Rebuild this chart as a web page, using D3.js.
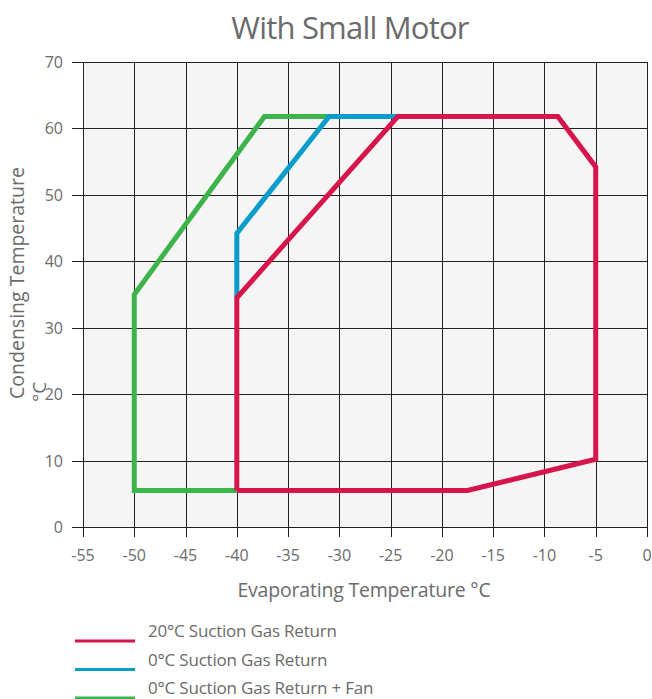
<!DOCTYPE html>
<html>
<head>
<meta charset="utf-8">
<script src="https://cdnjs.cloudflare.com/ajax/libs/d3/7.8.5/d3.min.js"></script>
<style>
  html, body { margin: 0; padding: 0; background: #fff; }
  svg text { font-family: "Open Sans", "DejaVu Sans", sans-serif; fill: #6b6b6b; }
</style>
</head>
<body>
<svg id="chart" width="652" height="699"></svg>
<script>
// Operating envelopes: [evaporating °C, condensing °C]
const envelopeRed = [[-40, 5.5], [-17.5, 5.5], [-5, 10.2], [-5, 54.2], [-8.7, 61.8], [-24.3, 61.8], [-40, 34.5], [-40, 5.5]];
const envelopeBlue = [[-40, 34.5], [-40, 44.2], [-31, 61.8], [-24.3, 61.8]];
const envelopeGreen = [[-40, 5.5], [-50, 5.5], [-50, 35], [-37.3, 61.8], [-31, 61.8]];

const seriesNames = ["20°C Suction Gas Return", "0°C Suction Gas Return", "0°C Suction Gas Return + Fan"];
const seriesColors = ["#d5154b", "#0a9dcb", "#3cb44a"];

const xTicks = [-55, -50, -45, -40, -35, -30, -25, -20, -15, -10, -5, 0];
const yTicks = [0, 10, 20, 30, 40, 50, 60, 70];

const svg = d3.select("#chart");
const plot = { left: 83, right: 647, top: 62, bottom: 527 };

const x = d3.scaleLinear().domain([-55, 0]).range([plot.left, plot.right]);
const y = d3.scaleLinear().domain([0, 70]).range([plot.bottom, plot.top]);

// plot background
svg.append("rect")
  .attr("x", plot.left).attr("y", plot.top)
  .attr("width", plot.right - plot.left).attr("height", plot.bottom - plot.top)
  .attr("fill", "#f5f5f5");

// grid
const grid = svg.append("g");
grid.selectAll("line.v").data(xTicks).join("line")
  .attr("x1", d => Math.round(x(d)) + 0.5).attr("x2", d => Math.round(x(d)) + 0.5)
  .attr("y1", plot.top).attr("y2", plot.bottom + 10)
  .attr("stroke", "#222").attr("stroke-width", 1);
grid.selectAll("line.h").data(yTicks).join("line")
  .attr("y1", d => Math.round(y(d)) + 0.5).attr("y2", d => Math.round(y(d)) + 0.5)
  .attr("x1", plot.left - 11).attr("x2", plot.right)
  .attr("stroke", "#222").attr("stroke-width", 1);

// tick labels
svg.append("g").selectAll("text").data(xTicks).join("text")
  .attr("x", d => x(d)).attr("y", 561)
  .attr("text-anchor", "middle").attr("font-size", 16)
  .text(d => d);
svg.append("g").selectAll("text").data(yTicks).join("text")
  .attr("x", 63).attr("y", d => y(d) + 6)
  .attr("text-anchor", "end").attr("font-size", 16)
  .text(d => d);

// title and axis titles
svg.append("text").attr("x", 350).attr("y", 39)
  .attr("text-anchor", "middle").attr("font-size", 31).attr("letter-spacing", -0.8)
  .text("With Small Motor");
svg.append("text").attr("x", 364).attr("y", 597)
  .attr("text-anchor", "middle").attr("font-size", 19.5).attr("letter-spacing", -0.2)
  .text("Evaporating Temperature °C");
svg.append("text")
  .attr("transform", "translate(24,283) rotate(-90)")
  .attr("text-anchor", "middle").attr("font-size", 19.5).attr("letter-spacing", 0)
  .text("Condensing Temperature");
svg.append("text")
  .attr("transform", "translate(46,402) rotate(-90)")
  .attr("text-anchor", "start").attr("font-size", 19)
  .text("°C");

// envelopes
const line = d3.line().x(d => x(d[0])).y(d => y(d[1]));
const paths = [envelopeGreen, envelopeBlue, envelopeRed];
const pathColors = [seriesColors[2], seriesColors[1], seriesColors[0]];
svg.append("g").selectAll("path").data(paths).join("path")
  .attr("d", line)
  .attr("fill", "none")
  .attr("stroke", (d, i) => pathColors[i])
  .attr("stroke-width", 5)
  .attr("stroke-linejoin", "miter");

// legend
const legend = svg.append("g").selectAll("g").data(seriesNames).join("g")
  .attr("transform", (d, i) => `translate(0,${i * 28.5})`);
legend.append("line")
  .attr("x1", 75).attr("x2", 135).attr("y1", 641).attr("y2", 641)
  .attr("stroke", (d, i) => seriesColors[i]).attr("stroke-width", 3);
legend.append("text")
  .attr("x", 148).attr("y", 637).attr("font-size", 17).attr("letter-spacing", -0.2)
  .text(d => d);
</script>
</body>
</html>
